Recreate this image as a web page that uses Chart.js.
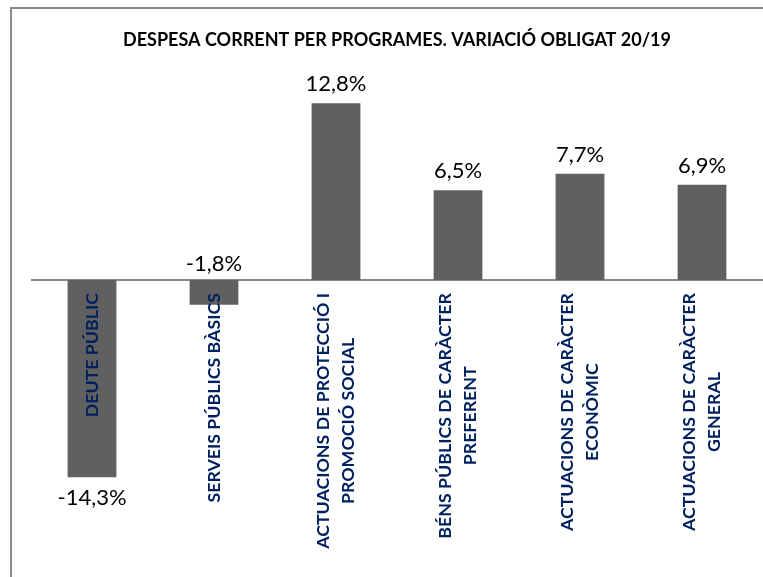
<!DOCTYPE html>
<html><head><meta charset="utf-8">
<script src="https://cdn.jsdelivr.net/npm/chart.js@4/dist/chart.umd.min.js"></script>
<style>
html,body{margin:0;padding:0;background:#fff;overflow:hidden;}
#wrap{position:relative;width:763px;height:577px;overflow:hidden;}
#frame{position:absolute;left:10px;top:7px;width:800px;height:600px;border-top:2px solid #8a8a8a;border-left:2px solid #8a8a8a;}
canvas{position:absolute;left:0;top:0;}
</style></head><body>
<div id="wrap"><div id="frame"></div><canvas id="c" width="763" height="577"></canvas></div>
<script>
const titleText = "DESPESA CORRENT PER PROGRAMES. VARIACIÓ OBLIGAT 20/19";
const categories = [
  ["DEUTE PÚBLIC"],
  ["SERVEIS PÚBLICS BÀSICS"],
  ["ACTUACIONS DE PROTECCIÓ I", "PROMOCIÓ SOCIAL"],
  ["BÉNS PÚBLICS DE CARÀCTER", "PREFERENT"],
  ["ACTUACIONS DE CARÀCTER", "ECONÒMIC"],
  ["ACTUACIONS DE CARÀCTER", "GENERAL"]
];
const variacio = [-14.3, -1.8, 12.8, 6.5, 7.7, 6.9];

const fmt = v => v.toFixed(1).replace('.', ',') + '%';

const zeroLine = {
  id: 'zeroLine',
  beforeDatasetsDraw(chart) {
    const {ctx, chartArea} = chart;
    const y0 = chart.scales.y.getPixelForValue(0);
    ctx.save();
    ctx.strokeStyle = '#8a8a8a';
    ctx.lineWidth = 2;
    ctx.beginPath();
    ctx.moveTo(chartArea.left, y0);
    ctx.lineTo(chartArea.right, y0);
    ctx.stroke();
    ctx.restore();
  }
};

const labelsPlugin = {
  id: 'labelsPlugin',
  afterDatasetsDraw(chart) {
    const ctx = chart.ctx;
    const xs = chart.scales.x, ys = chart.scales.y;
    const y0 = ys.getPixelForValue(0);
    ctx.save();
    ctx.font = 'bold 17.8px Lato';
    ctx.fillStyle = '#002060';
    ctx.textAlign = 'center';
    ctx.textBaseline = 'middle';
    categories.forEach((lines, i) => {
      const cx = xs.getPixelForValue(i);
      const maxW = Math.max(...lines.map(l => ctx.measureText(l).width));
      const lh = 25;
      ctx.save();
      ctx.translate(cx, y0 + 13);
      ctx.rotate(-Math.PI / 2);
      lines.forEach((l, k) => {
        const off = (k - (lines.length - 1) / 2) * lh;
        ctx.fillText(l, -maxW / 2, off);
      });
      ctx.restore();
    });
    ctx.restore();
    ctx.save();
    ctx.font = '22px Lato';
    ctx.fillStyle = '#000';
    ctx.textAlign = 'center';
    ctx.textBaseline = 'alphabetic';
    const meta = chart.getDatasetMeta(0);
    meta.data.forEach((bar, i) => {
      const v = variacio[i];
      const t = fmt(v);
      let y;
      if (v >= 0) y = bar.y - 12;
      else if (Math.abs(bar.y - y0) > 60) y = bar.y + 28;
      else y = y0 - 9;
      ctx.fillText(t, bar.x, y);
    });
    ctx.restore();
  }
};

function draw() {
  new Chart(document.getElementById('c'), {
    type: 'bar',
    data: {
      labels: categories,
      datasets: [{
        data: variacio,
        backgroundColor: '#606060',
        borderWidth: 0,
        categoryPercentage: 1,
        barPercentage: 0.4
      }]
    },
    options: {
      responsive: false,
      animation: false,
      devicePixelRatio: 1,
      layout: { padding: { left: 31, right: 0, top: 0, bottom: 21 } },
      plugins: {
        legend: { display: false },
        tooltip: { enabled: false },
        title: {
          display: true,
          text: titleText,
          color: '#000',
          font: { family: 'Lato', size: 18, weight: 'bold' },
          padding: { top: 29, bottom: 22.4 }
        }
      },
      scales: {
        x: { display: false },
        y: { display: false, min: -20, max: 15 }
      }
    },
    plugins: [zeroLine, labelsPlugin]
  });
}
Promise.all([
  document.fonts.load('bold 18px Lato'),
  document.fonts.load('22px Lato')
]).then(draw, draw);
</script>
</body></html>
